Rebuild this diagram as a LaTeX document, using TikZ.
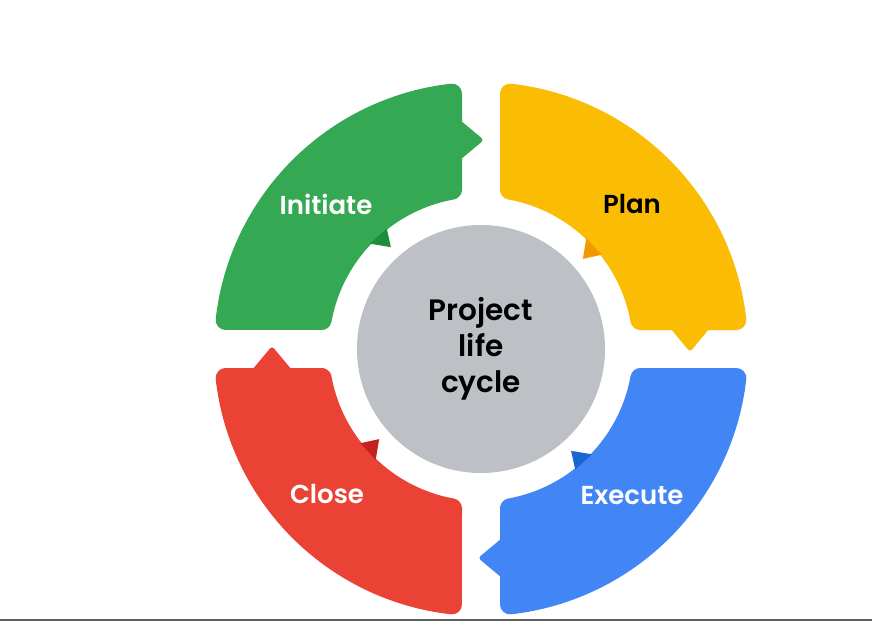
\documentclass[tikz,border=0pt]{standalone}
\usepackage{fontspec}
\newfontfamily\lbl{Poppins SemiBold}
\definecolor{ggreen}{HTML}{34A853}
\definecolor{dgreen}{HTML}{1E8E3E}
\definecolor{gyellow}{HTML}{FBBC04}
\definecolor{dyellow}{HTML}{F29900}
\definecolor{gblue}{HTML}{4285F4}
\definecolor{dblue}{HTML}{1967D2}
\definecolor{gred}{HTML}{EA4335}
\definecolor{dred}{HTML}{C5221F}
\definecolor{cgray}{HTML}{BDC1C6}
\definecolor{linegray}{HTML}{5F5F5F}
\tikzset{
  pics/quarter/.style args={#1/#2}{code={
    \fill[#1, draw=#1, line width=20pt, line join=round]
      (-29,159.38) -- (-29,255.36)
      arc[start angle=96.48, end angle=173.52, radius=257]
      -- (-159.38,29)
      arc[start angle=169.69, end angle=100.31, radius=162] -- cycle;
    \fill[#1, draw=#1, line width=5pt, line join=round]
      (-25,229) -- (-1,209) -- (-25,189) -- cycle;
    \fill[#2] (128:153) -- (131.5:136) -- (136.5:153) -- cycle;
  }},
  lab/.style={font=\lbl\fontsize{26}{36}\selectfont, inner sep=0pt},
  hublab/.style={font=\lbl\fontsize{29.5}{36}\selectfont, inner sep=0pt}
}
\begin{document}
\begin{tikzpicture}[x=1pt,y=1pt]
\useasboundingbox (-481,-272) rectangle (391,349);
\fill[white] (-481,-272) rectangle (391,349);
\fill[linegray] (-481,-272) rectangle (391,-270);
\pic[rotate=0] {quarter=ggreen/dgreen};
\pic[rotate=-90] {quarter=gyellow/dyellow};
\pic[rotate=-180] {quarter=gblue/dblue};
\pic[rotate=-270] {quarter=gred/dred};
\node[circle, fill=cgray, minimum size=248pt, inner sep=0pt] (hub) at (0,0) {};
\node[hublab, align=center, text=black] (hubtext) at (hub.center) {Project\\life\\cycle};
\node[lab, text=white] (initiate) at (-155,145) {Initiate};
\node[lab, text=black] (plan) at (151,145) {Plan};
\node[lab, text=white] (execute) at (151,-147) {Execute};
\node[lab, text=white] (close) at (-154,-145) {Close};
\end{tikzpicture}
\end{document}
